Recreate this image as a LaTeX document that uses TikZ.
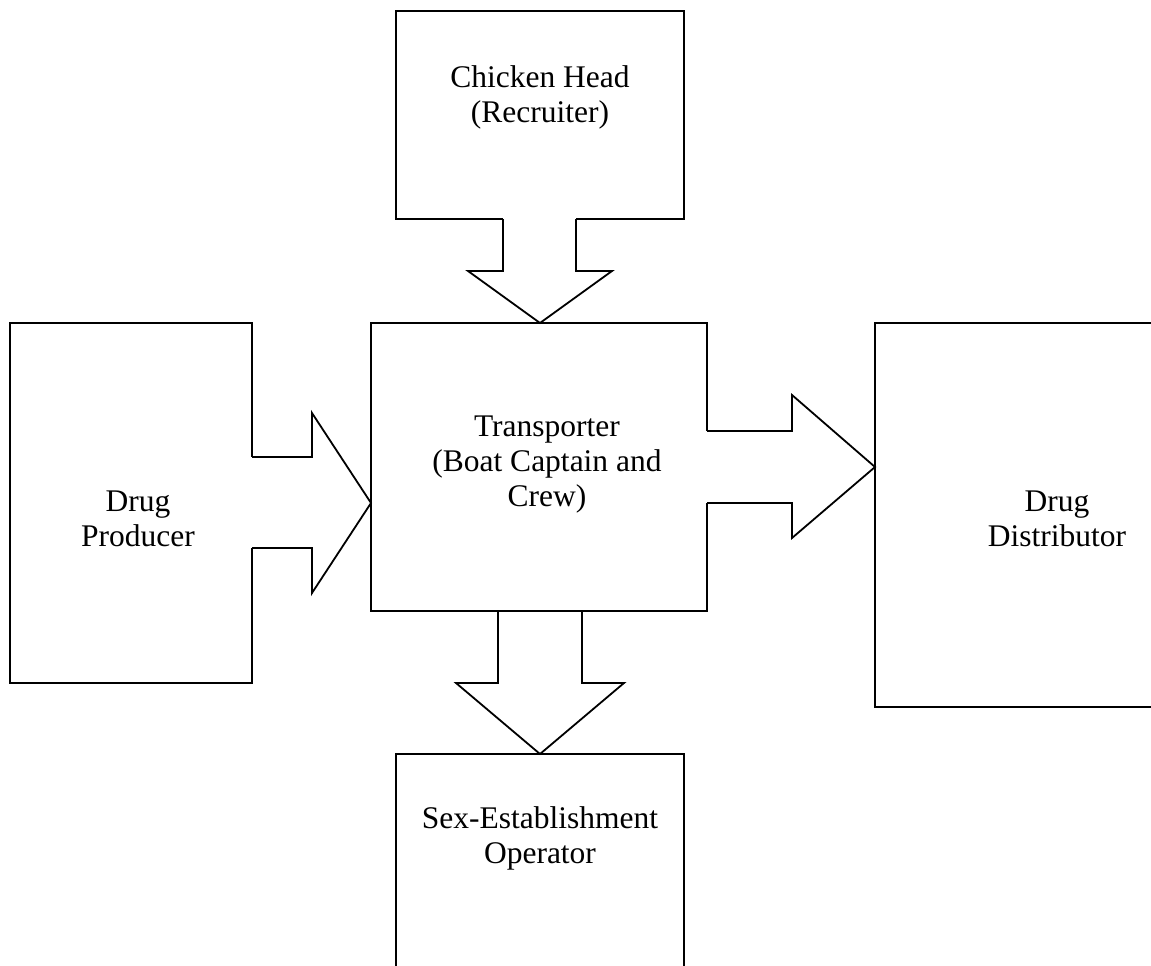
\documentclass[tikz,border=0pt]{standalone}
\usepackage{fontspec}
\setmainfont{Liberation Serif}
\usetikzlibrary{calc}
\begin{document}
\begin{tikzpicture}[x=1pt,y=-1pt,
  box/.style={draw=black,fill=white,line width=1.8pt,rectangle,inner sep=0pt,outer sep=0pt},
  lbl/.style={align=center,inner sep=0pt,font=\fontsize{31.5}{35}\selectfont},
  barrow/.style={draw=black,line width=1.8pt,line join=miter},
]
\useasboundingbox (0,0) rectangle (1151,966);
\clip (0,0) rectangle (1151,966);
\fill[white] (0,0) rectangle (1151,966);
% boxes
\node[box,minimum width=288,minimum height=208] (ch) at (540,115) {};
\node[box,minimum width=336,minimum height=288] (tr) at (539,467) {};
\node[box,minimum width=242,minimum height=360] (dp) at (131,503) {};
\node[box,minimum width=330,minimum height=384] (dd) at (1040,515) {};
\node[box,minimum width=288,minimum height=250] (se) at (540,879) {};
% texts
\node[lbl] (chT) at (540,97) {Chicken Head\\(Recruiter)};
\node[lbl] (trT) at (547,465) {Transporter\\(Boat Captain and\\Crew)};
\node[lbl] (dpT) at (138,519) {Drug\\Producer};
\node[lbl] (ddT) at (1057,519) {Drug\\Distributor};
\node[lbl] (seT) at (540,838) {Sex-Establishment\\Operator};
% left arrow: dp -> tr
\coordinate (l0) at (dp.east);
\coordinate (lt) at (tr.west |- dp.east);
\fill[white] ($(l0)+(-3,-46)$) rectangle ($(l0)+(60,45)$);
\fill[white] ($(l0)+(60,-90)$) -- (lt) -- ($(l0)+(60,90)$) -- cycle;
\draw[barrow] ($(l0)+(0,-46)$) -- ($(l0)+(60,-46)$) -- ($(l0)+(60,-90)$) -- (lt)
  -- ($(l0)+(60,90)$) -- ($(l0)+(60,45)$) -- ($(l0)+(0,45)$);
% right arrow: tr -> dd
\coordinate (r0) at (tr.east);
\coordinate (rt) at (dd.west |- tr.east);
\fill[white] ($(r0)+(-3,-36)$) rectangle ($(r0)+(85,36)$);
\fill[white] ($(r0)+(85,-72)$) -- (rt) -- ($(r0)+(85,71)$) -- cycle;
\draw[barrow] ($(r0)+(0,-36)$) -- ($(r0)+(85,-36)$) -- ($(r0)+(85,-72)$) -- (rt)
  -- ($(r0)+(85,71)$) -- ($(r0)+(85,36)$) -- ($(r0)+(0,36)$);
% top arrow: ch -> tr
\coordinate (t0) at (ch.south);
\coordinate (tt) at (tr.north -| ch.south);
\fill[white] ($(t0)+(-37,-3)$) rectangle ($(t0)+(36,52)$);
\fill[white] ($(t0)+(-72,52)$) -- (tt) -- ($(t0)+(72,52)$) -- cycle;
\draw[barrow] ($(t0)+(-37,0)$) -- ($(t0)+(-37,52)$) -- ($(t0)+(-72,52)$) -- (tt)
  -- ($(t0)+(72,52)$) -- ($(t0)+(36,52)$) -- ($(t0)+(36,0)$);
% bottom arrow: tr -> se (box edge stays visible)
\coordinate (b0) at (tr.south -| se.north);
\coordinate (bt) at (se.north);
\draw[barrow] ($(b0)+(-42,0)$) -- ($(b0)+(-42,72)$) -- ($(b0)+(-84,72)$) -- (bt)
  -- ($(b0)+(84,72)$) -- ($(b0)+(42,72)$) -- ($(b0)+(42,0)$);
\end{tikzpicture}
\end{document}
